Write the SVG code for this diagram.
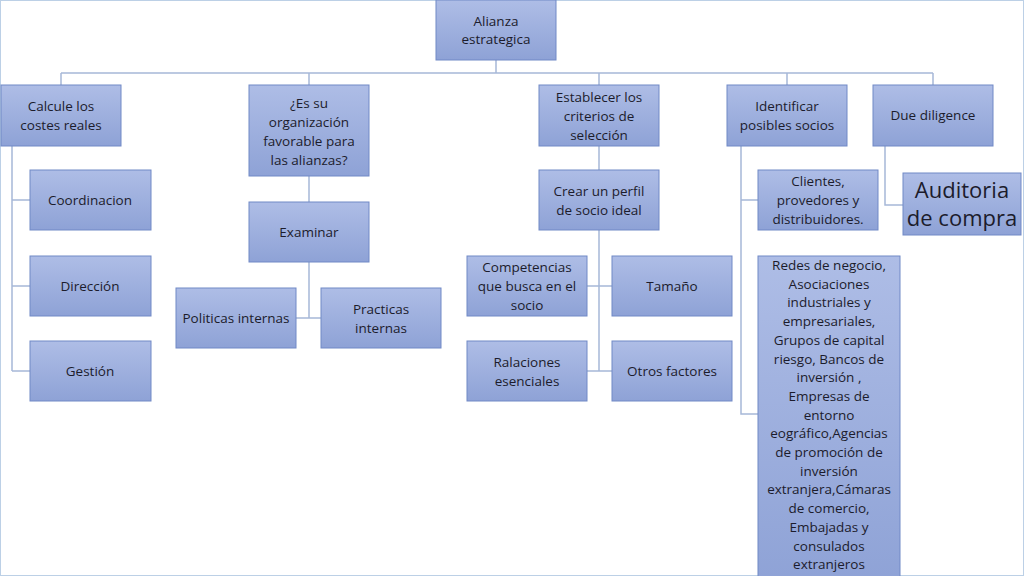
<svg xmlns="http://www.w3.org/2000/svg" width="1024" height="576" viewBox="0 0 1024 576">
<defs>
<linearGradient id="g" x1="0" y1="0" x2="0" y2="1"><stop offset="0" stop-color="#aebde6"/><stop offset="1" stop-color="#8ea2d6"/></linearGradient>
<style>
.b{fill:url(#g);stroke:#7189c6;stroke-width:1}
text{font-family:"Open Sans","Liberation Sans",sans-serif;font-size:13.5px;fill:#1c1c2c;text-anchor:middle}
.big{font-size:22px}
.c{fill:none;stroke:#a6b8d8;stroke-width:1.5}
</style>
</defs>
<rect width="1024" height="576" fill="#fff"/>
<rect x="0.5" y="0.5" width="1023" height="575" fill="none" stroke="#bcd0e6"/>
<g id="connectors" class="c">
<path d="M496 60V73M61 73H933M61 73V85M309 73V85M599 73V85M787 73V85M933 73V85"/>
<path d="M12 146V371M12 200H30M12 286H30M12 371H30"/>
<path d="M309 176V202M309 262V318M296 318H321"/>
<path d="M599 146V170M599 230V371M587 286H612M587 371H612"/>
<path d="M741 146V414H758M741 200H758"/>
<path d="M885 146V205H903"/>
</g>
<g id="n0"><rect class="b" x="436" y="0" width="120" height="60"/><text x="496" y="26">Alianza</text><text x="496" y="44">estrategica</text></g>
<g id="n1"><rect class="b" x="1" y="85" width="120" height="61"/><text x="61" y="111">Calcule los</text><text x="61" y="130">costes reales</text></g>
<g id="n2"><rect class="b" x="249" y="85" width="120" height="91"/><text x="309" y="108">¿Es su</text><text x="309" y="127">organización</text><text x="309" y="146">favorable para</text><text x="309" y="165">las alianzas?</text></g>
<g id="n3"><rect class="b" x="539" y="85" width="120" height="61"/><text x="599" y="102">Establecer los</text><text x="599" y="121">criterios de</text><text x="599" y="140">selección</text></g>
<g id="n4"><rect class="b" x="727" y="85" width="120" height="61"/><text x="787" y="111">Identificar</text><text x="787" y="130">posibles socios</text></g>
<g id="n5"><rect class="b" x="873" y="85" width="120" height="61"/><text x="933" y="120">Due diligence</text></g>
<g id="n6"><rect class="b" x="30" y="170" width="121" height="60"/><text x="90" y="205">Coordinacion</text></g>
<g id="n7"><rect class="b" x="30" y="256" width="121" height="60"/><text x="90" y="291">Dirección</text></g>
<g id="n8"><rect class="b" x="30" y="341" width="121" height="60"/><text x="90" y="376">Gestión</text></g>
<g id="n9"><rect class="b" x="249" y="202" width="120" height="60"/><text x="309" y="237">Examinar</text></g>
<g id="n10"><rect class="b" x="176" y="288" width="120" height="60"/><text x="236" y="323">Politicas internas</text></g>
<g id="n11"><rect class="b" x="321" y="288" width="120" height="60"/><text x="381" y="314">Practicas</text><text x="381" y="333">internas</text></g>
<g id="n12"><rect class="b" x="539" y="170" width="120" height="60"/><text x="599" y="196">Crear un perfil</text><text x="599" y="215">de socio ideal</text></g>
<g id="n13"><rect class="b" x="467" y="256" width="120" height="60"/><text x="527" y="272">Competencias</text><text x="527" y="291">que busca en el</text><text x="527" y="310">socio</text></g>
<g id="n14"><rect class="b" x="612" y="256" width="120" height="60"/><text x="672" y="291">Tamaño</text></g>
<g id="n15"><rect class="b" x="467" y="341" width="120" height="60"/><text x="527" y="367">Ralaciones</text><text x="527" y="386">esenciales</text></g>
<g id="n16"><rect class="b" x="612" y="341" width="120" height="60"/><text x="672" y="376">Otros factores</text></g>
<g id="n17"><rect class="b" x="758" y="170" width="120" height="60"/><text x="818" y="186">Clientes,</text><text x="818" y="205">provedores y</text><text x="818" y="224">distribuidores.</text></g>
<g id="n18"><rect class="b" x="758" y="256" width="142" height="330"/>
<text x="829" y="270">Redes de  negocio,</text><text x="829" y="288.7">Asociaciones</text><text x="829" y="307.4">industriales y</text><text x="829" y="326.1">empresariales,</text><text x="829" y="344.8">Grupos de capital</text><text x="829" y="363.5">riesgo, Bancos de</text><text x="829" y="382.2">inversión ,</text><text x="829" y="400.9">Empresas de</text><text x="829" y="419.6">entorno</text><text x="829" y="438.3">eográfico,Agencias</text><text x="829" y="457">de promoción de</text><text x="829" y="475.7">inversión</text><text x="829" y="494.4">extranjera,Cámaras</text><text x="829" y="513.1">de comercio,</text><text x="829" y="531.8">Embajadas y</text><text x="829" y="550.5">consulados</text><text x="829" y="569.2">extranjeros</text></g>
<g id="n19"><rect class="b" x="903" y="173" width="118" height="62"/><text class="big" x="962" y="198">Auditoria</text><text class="big" x="962" y="226">de compra</text></g>
</svg>
